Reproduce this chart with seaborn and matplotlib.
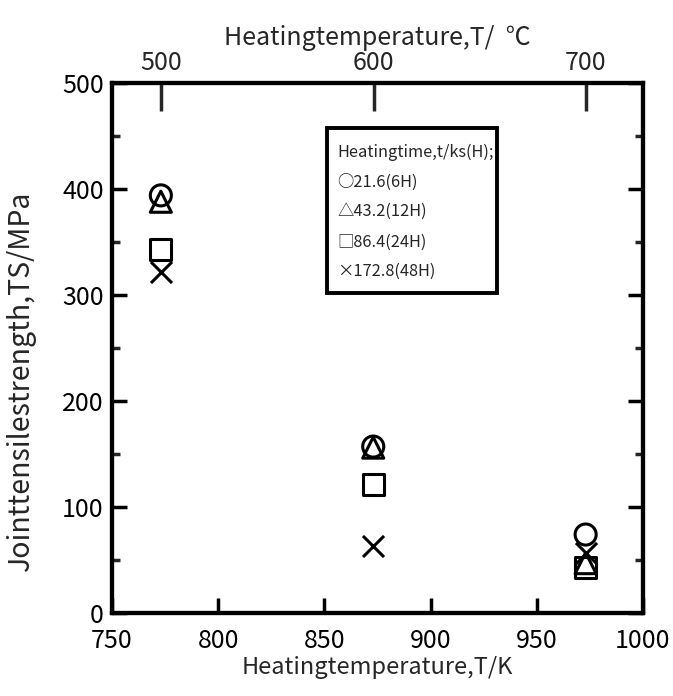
import matplotlib
matplotlib.use("Agg")
import matplotlib.pyplot as plt
from matplotlib.patches import Rectangle
import seaborn as sns
import pandas as pd

# Heating temperature (K) and joint tensile strength (MPa) per heating time
temps_k = [773, 873, 973]
ts_6h = [394, 157, 74]
ts_12h = [388, 156, 47]
ts_24h = [343, 121, 43]
ts_48h = [322, 63, 57]

legend_title = "Heatingtime,t/ks(H);"
series_labels = ["○21.6(6H)", "△43.2(12H)", "□86.4(24H)", "×172.8(48H)"]
celsius_ticks = [500, 600, 700]
x_ticks = [750, 800, 850, 900, 950, 1000]
y_ticks = [0, 100, 200, 300, 400, 500]

sns.set_theme(style="ticks")
plt.rcParams["font.family"] = ["Noto Sans CJK JP", "DejaVu Sans"]

df = pd.DataFrame({
    "T": temps_k * 4,
    "TS": ts_6h + ts_12h + ts_24h + ts_48h,
    "time": sum([[lab] * 3 for lab in series_labels], []),
})

fig = plt.figure(figsize=(6.73, 6.96), dpi=100)
ax = fig.add_axes([0.1664, 0.1193, 0.7890, 0.7614])

markers = {"○21.6(6H)": "o", "△43.2(12H)": "^", "□86.4(24H)": "s", "×172.8(48H)": "x"}
for lab in series_labels:
    sub = df[df["time"] == lab]
    m = markers[lab]
    if m == "x":
        sns.scatterplot(data=sub, x="T", y="TS", marker="x", s=230, color="black",
                        linewidth=2.2, ax=ax, zorder=3)
    else:
        sns.scatterplot(data=sub, x="T", y="TS", marker=m, s=230, facecolors="none",
                        edgecolors="black", linewidth=2.2, ax=ax, zorder=3)

ax.set_xlim(750, 1000)
ax.set_ylim(0, 500)
ax.set_xticks(x_ticks)
ax.set_yticks(y_ticks)
ax.set_yticks(range(50, 500, 100), minor=True)
ax.tick_params(axis="both", which="major", direction="in", length=11, width=2.5,
               labelsize=18, colors="black")
ax.tick_params(axis="x", which="major", pad=11)
ax.tick_params(axis="y", which="major", pad=6)
ax.tick_params(axis="y", which="both", right=True)
ax.tick_params(axis="y", which="minor", direction="in", length=6, width=2.5)
ax.tick_params(axis="x", which="major", top=False)
for sp in ax.spines.values():
    sp.set_linewidth(3)
    sp.set_color("black")

ax.set_xlabel("Heatingtemperature,T/K", fontsize=17, labelpad=1)
ax.set_ylabel("Jointtensilestrength,TS/MPa", fontsize=20.5)
ax.yaxis.set_label_coords(-0.143, 0.438)

# Celsius scale along the top edge
ax2 = ax.twiny()
ax2.set_xlim(ax.get_xlim())
ax2.set_xticks([c + 273.15 for c in celsius_ticks])
ax2.set_xticklabels([str(c) for c in celsius_ticks])
ax2.tick_params(axis="x", direction="in", length=20, width=2.5, labelsize=18, pad=5)
for sp in ax2.spines.values():
    sp.set_linewidth(3)
    sp.set_color("black")
ax2.set_xlabel("Heatingtemperature,T/  ℃", fontsize=18, labelpad=4)

# Boxed key listing the heating times
ax.add_patch(Rectangle((0.405, 0.604), 0.320, 0.311, transform=ax.transAxes,
                       facecolor="white", edgecolor="black", linewidth=2.8, zorder=4))
key_rows = [legend_title] + series_labels
key_y = [0.870, 0.813, 0.757, 0.700, 0.645]
for txt, yy in zip(key_rows, key_y):
    ax.text(0.424, yy, txt, transform=ax.transAxes, fontsize=11.8,
            va="center", ha="left", zorder=5)

fig.savefig("out.png", dpi=100)
